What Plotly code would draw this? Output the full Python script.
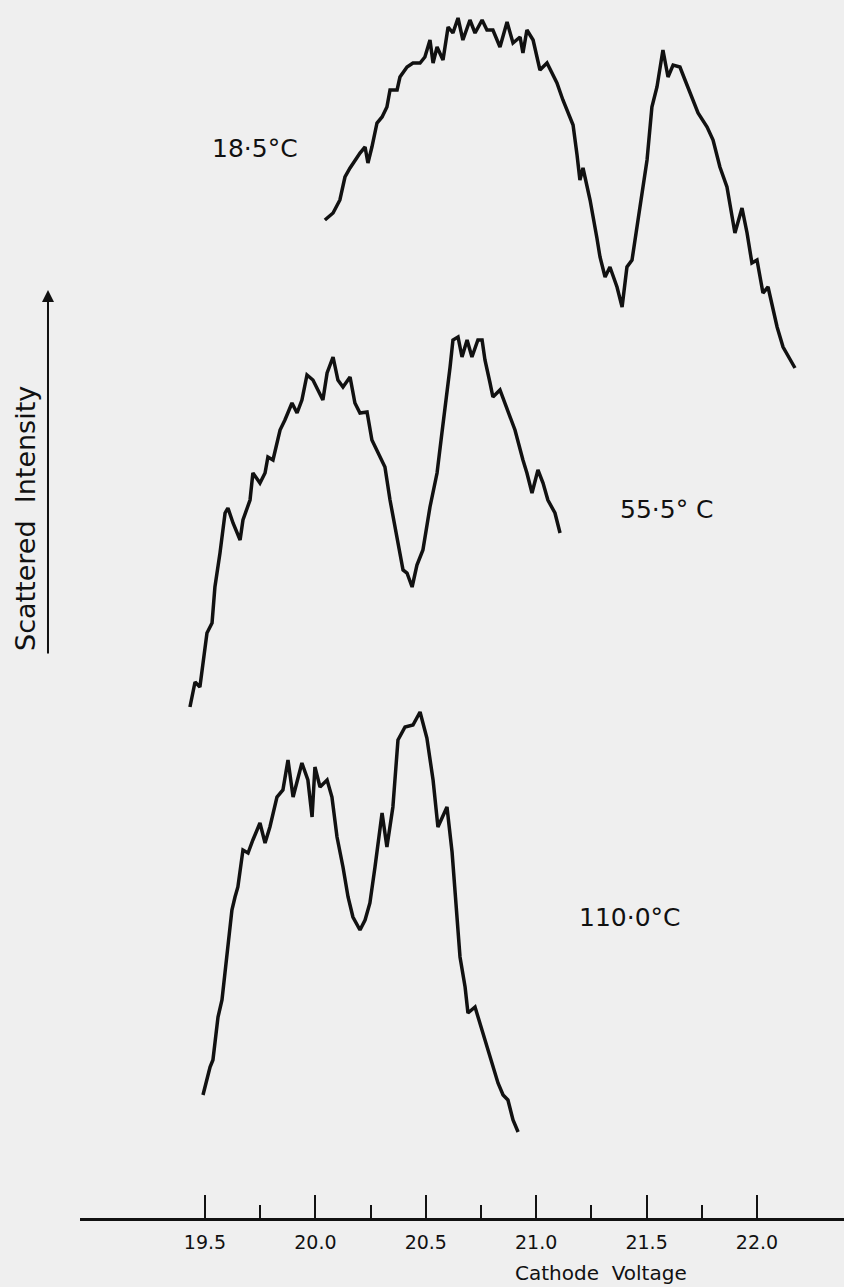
import plotly.graph_objects as go

# ---- data (cathode voltage in V, scattered intensity in arbitrary units) ----
v_185 = [20.043, 20.080, 20.111, 20.134, 20.157, 20.179, 20.202, 20.225, 20.238, 20.256,
         20.279, 20.302, 20.324, 20.338, 20.370, 20.383, 20.415, 20.442, 20.474, 20.496,
         20.519, 20.533, 20.551, 20.578, 20.601, 20.623, 20.646, 20.668, 20.700, 20.723,
         20.755, 20.777, 20.804, 20.836, 20.868, 20.895, 20.927, 20.940, 20.958, 20.986,
         21.017, 21.049, 21.094, 21.121, 21.140, 21.167, 21.185, 21.198, 21.212, 21.244,
         21.275, 21.289, 21.312, 21.334, 21.366, 21.389, 21.411, 21.434, 21.470, 21.502,
         21.524, 21.547, 21.574, 21.597, 21.620, 21.651, 21.674, 21.706, 21.733, 21.774,
         21.801, 21.832, 21.864, 21.900, 21.932, 21.955, 21.977, 22.000, 22.027, 22.050,
         22.091, 22.118, 22.149, 22.172]
i_185 = [99.8, 100.5, 101.8, 104.1, 105.0, 105.8, 106.5, 107.1, 105.5, 107.1,
         109.5, 110.1, 111.1, 112.8, 112.8, 114.1, 115.1, 115.5, 115.5, 116.1,
         117.8, 115.5, 117.1, 115.8, 119.1, 118.5, 120.0, 117.8, 119.8, 118.5,
         119.8, 118.8, 118.8, 117.1, 119.6, 117.5, 118.1, 116.5, 118.8, 117.8,
         114.8, 115.5, 113.5, 111.8, 110.8, 109.3, 106.3, 103.8, 105.0, 101.8,
         98.0, 96.1, 94.1, 95.1, 93.1, 91.1, 95.1, 95.8, 101.1, 105.8,
         111.1, 113.1, 116.8, 114.1, 115.3, 115.1, 113.8, 112.1, 110.5, 109.1,
         107.8, 105.1, 103.1, 98.5, 101.0, 98.5, 95.5, 95.8, 92.5, 93.1,
         89.1, 87.1, 85.8, 85.0]

v_555 = [19.432, 19.446, 19.455, 19.477, 19.491, 19.509, 19.532, 19.545, 19.568, 19.591,
         19.604, 19.627, 19.659, 19.672, 19.704, 19.717, 19.749, 19.772, 19.785, 19.808,
         19.840, 19.862, 19.894, 19.917, 19.939, 19.962, 19.989, 20.012, 20.034, 20.053,
         20.080, 20.102, 20.125, 20.157, 20.179, 20.202, 20.234, 20.256, 20.284, 20.315,
         20.338, 20.361, 20.383, 20.397, 20.415, 20.438, 20.460, 20.487, 20.519, 20.551,
         20.573, 20.587, 20.610, 20.623, 20.646, 20.664, 20.687, 20.709, 20.736, 20.755,
         20.768, 20.791, 20.804, 20.836, 20.868, 20.904, 20.940, 20.958, 20.981, 21.008,
         21.031, 21.053, 21.085, 21.108]
i_555 = [51.1, 52.8, 53.6, 53.1, 55.5, 58.5, 59.5, 63.1, 66.5, 70.5,
         71.0, 69.5, 67.8, 69.8, 71.8, 74.5, 73.5, 74.5, 76.1, 75.8,
         78.8, 79.8, 81.5, 80.5, 81.8, 84.3, 83.8, 82.8, 81.8, 84.5,
         86.1, 83.8, 83.1, 84.1, 81.5, 80.5, 80.6, 77.8, 76.5, 75.1,
         71.8, 69.1, 66.5, 64.8, 64.5, 63.1, 65.3, 66.8, 71.1, 74.5,
         78.5, 80.8, 85.1, 87.8, 88.1, 86.1, 87.8, 86.1, 87.8, 87.8,
         85.8, 83.5, 82.1, 82.8, 80.8, 78.8, 75.8, 74.5, 72.5, 74.8,
         73.5, 71.8, 70.5, 68.5]

v_1100 = [19.491, 19.523, 19.536, 19.559, 19.577, 19.600, 19.622, 19.636, 19.649, 19.672,
          19.695, 19.717, 19.749, 19.772, 19.794, 19.826, 19.853, 19.876, 19.899, 19.939,
          19.966, 19.985, 19.998, 20.021, 20.053, 20.075, 20.098, 20.125, 20.148, 20.170,
          20.202, 20.225, 20.247, 20.270, 20.302, 20.324, 20.351, 20.374, 20.406, 20.442,
          20.474, 20.505, 20.533, 20.555, 20.596, 20.619, 20.641, 20.655, 20.678, 20.691,
          20.723, 20.755, 20.777, 20.804, 20.827, 20.850, 20.872, 20.895, 20.918]
i_1100 = [12.3, 15.1, 15.8, 20.1, 21.8, 26.5, 30.8, 32.1, 33.1, 36.8,
          36.5, 37.8, 39.5, 37.5, 39.1, 42.1, 42.8, 45.8, 42.1, 45.5,
          43.8, 40.1, 45.1, 43.1, 43.8, 42.1, 38.1, 35.1, 32.1, 30.1,
          28.8, 29.8, 31.5, 35.1, 40.5, 37.1, 41.1, 47.8, 49.1, 49.3,
          50.6, 48.0, 43.8, 39.1, 41.1, 36.6, 29.8, 26.1, 23.1, 20.5,
          21.1, 18.8, 17.1, 15.1, 13.5, 12.3, 11.8, 9.8, 8.6]

major_ticks = [19.5, 20.0, 20.5, 21.0, 21.5, 22.0]
major_labels = ["19.5", "20.0", "20.5", "21.0", "21.5", "22.0"]
minor_ticks = [19.75, 20.25, 20.75, 21.25, 21.75]

temp_labels = ["18·5°C", "55·5° C", "110·0°C"]
temp_label_v = [19.726, 21.592, 21.425]
temp_label_i = [107.0, 70.9, 30.1]

# ---- figure ----
BG = "#efefef"
FONT = "DejaVu Sans"
INK = "#111111"
fig = go.Figure()
for v, i in [(v_185, i_185), (v_555, i_555), (v_1100, i_1100)]:
    fig.add_trace(go.Scatter(x=v, y=i, mode="lines",
                             line=dict(color=INK, width=3.5), showlegend=False,
                             hoverinfo="skip"))

for t, x, y in zip(temp_labels, temp_label_v, temp_label_i):
    fig.add_annotation(x=x, y=y, xref="x", yref="y", text=t, showarrow=False,
                       xanchor="center", yanchor="middle",
                       font=dict(family=FONT, size=25, color=INK))

# y-axis arrow and label
fig.add_annotation(x=-0.0419, y=0.7619, xref="paper", yref="paper", text="",
                   showarrow=True, ax=0, ay=365, axref="pixel", ayref="pixel",
                   arrowhead=2, arrowsize=1.2, arrowwidth=2, arrowcolor=INK)
fig.add_annotation(x=-0.072, y=0.5747, xref="paper", yref="paper",
                   xanchor="center", yanchor="middle",
                   text="Scattered\u00a0\u00a0Intensity", textangle=-90, showarrow=False,
                   font=dict(family=FONT, size=27, color=INK))
# x-axis title
fig.add_annotation(x=0.682, y=-0.0452, xref="paper", yref="paper",
                   xanchor="center", yanchor="middle",
                   text="Cathode\u00a0\u00a0Voltage", showarrow=False,
                   font=dict(family=FONT, size=20, color=INK))

fig.update_layout(
    width=844, height=1287,
    margin=dict(l=80, r=0, t=0, b=69),
    paper_bgcolor=BG, plot_bgcolor=BG,
    xaxis=dict(range=[18.934, 22.394], showline=True, linecolor=INK, linewidth=3,
               ticks="inside", ticklen=23, tickwidth=2, tickcolor=INK,
               tickvals=major_ticks, ticktext=major_labels,
               tickfont=dict(family=FONT, size=19, color=INK),
               ticklabelstandoff=5,
               showgrid=False, zeroline=False,
               minor=dict(tickvals=minor_ticks, ticks="inside", ticklen=13,
                          tickwidth=2, tickcolor=INK, showgrid=False)),
    yaxis=dict(range=[0, 121.8], visible=False),
)
fig.write_html("out.html",
               config={"displayModeBar": False},
               post_script="document.body.style.margin='0';"
                           "document.body.style.background='" + BG + "';")
